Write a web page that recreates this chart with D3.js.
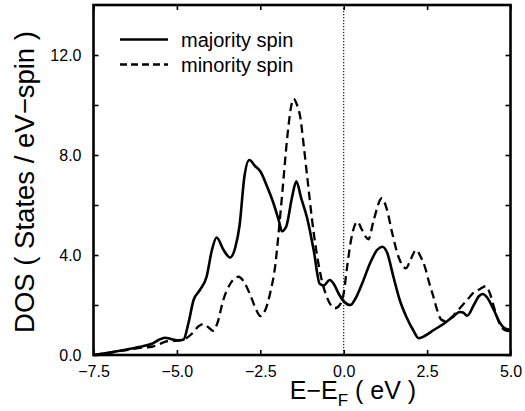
<!DOCTYPE html>
<html>
<head>
<meta charset="utf-8">
<script src="https://cdn.jsdelivr.net/npm/d3@7/dist/d3.min.js"></script>
<style>
  html, body { margin: 0; padding: 0; background: #fff; }
  svg { display: block; font-family: "Liberation Sans", Arial, Helvetica, sans-serif; }
</style>
</head>
<body>
<svg id="chart" width="525" height="411"></svg>
<script>
// ---- data ----
const majorityE = [-7.5,-7.0,-6.5,-6.0,-5.75,-5.55,-5.36,-5.15,-4.95,-4.8,-4.65,-4.5,-4.31,-4.11,-3.95,-3.81,-3.6,-3.41,-3.25,-3.12,-2.98,-2.83,-2.65,-2.5,-2.3,-2.1,-1.95,-1.85,-1.72,-1.55,-1.42,-1.28,-1.1,-0.9,-0.72,-0.6,-0.42,-0.3,-0.15,0.0,0.2,0.35,0.55,0.8,1.0,1.16,1.3,1.49,1.68,1.87,2.08,2.25,2.45,2.7,3.0,3.25,3.48,3.58,3.7,3.9,4.05,4.17,4.3,4.5,4.7,4.85,5.0];
const majorityDOS = [0.0,0.1,0.22,0.36,0.45,0.6,0.69,0.63,0.58,0.62,1.3,2.2,2.6,3.13,4.2,4.7,4.2,3.9,4.3,5.2,7.1,7.8,7.55,7.35,6.75,6.05,5.4,4.95,5.15,6.3,6.95,6.3,5.5,4.2,2.85,2.78,3.0,2.85,2.45,2.15,2.0,2.25,2.85,3.7,4.2,4.33,4.1,3.13,2.2,1.55,1.0,0.67,0.78,1.0,1.25,1.5,1.72,1.7,1.57,2.0,2.35,2.44,2.3,1.8,1.25,1.05,1.0];
const minorityE = [-7.5,-7.0,-6.5,-6.0,-5.75,-5.55,-5.3,-5.0,-4.75,-4.55,-4.35,-4.21,-4.05,-3.91,-3.78,-3.61,-3.4,-3.15,-3.0,-2.8,-2.62,-2.5,-2.35,-2.2,-2.05,-1.95,-1.82,-1.7,-1.55,-1.5,-1.4,-1.3,-1.2,-1.1,-0.9,-0.7,-0.5,-0.26,-0.12,0.0,0.1,0.22,0.41,0.55,0.74,0.9,1.14,1.3,1.45,1.65,1.87,2.0,2.17,2.3,2.44,2.56,2.69,2.8,2.92,3.05,3.3,3.5,3.7,3.9,4.1,4.25,4.4,4.5,4.69,4.85,5.0];
const minorityDOS = [0.0,0.1,0.2,0.3,0.33,0.42,0.55,0.58,0.65,0.85,1.15,1.24,1.1,0.97,1.3,2.2,2.85,3.13,2.95,2.4,1.8,1.56,1.8,2.5,3.6,4.9,6.8,8.6,10.1,10.25,10.0,9.5,8.4,7.2,4.9,3.25,2.3,1.87,2.0,2.47,3.5,4.6,5.33,5.0,4.63,5.4,6.27,5.8,4.9,3.9,3.47,3.8,4.2,3.95,3.5,2.9,2.33,1.8,1.42,1.35,1.6,1.9,2.2,2.5,2.65,2.75,2.4,1.93,1.2,0.98,0.95];
const xTicks = [-7.5,-5.0,-2.5,0.0,2.5,5.0];
const yTicksLabeled = [0,4,8,12];
const yTicksAll = [0,2,4,6,8,10,12];
const legendLabels = ["majority spin","minority spin"];

// ---- layout ----
const svg = d3.select("#chart");
const x = d3.scaleLinear().domain([-7.5, 5.0]).range([93.5, 510.5]);
const y = d3.scaleLinear().domain([0, 14]).range([355, 5]);
const tickLen = 5;

// dotted Fermi line
svg.append("line")
  .attr("x1", x(0)).attr("x2", x(0)).attr("y1", y(14)).attr("y2", y(0))
  .attr("stroke", "#000").attr("stroke-width", 1.1).attr("stroke-dasharray", "1.2,1.8");

const line = d3.line().x(d => x(d[0])).y(d => y(d[1])).curve(d3.curveMonotoneX);
const maj = majorityE.map((e, i) => [e, majorityDOS[i]]);
const min = minorityE.map((e, i) => [e, minorityDOS[i]]);

svg.append("path").datum(min).attr("d", line)
  .attr("fill", "none").attr("stroke", "#000").attr("stroke-width", 2.3)
  .attr("stroke-dasharray", "8.5,5");
svg.append("path").datum(maj).attr("d", line)
  .attr("fill", "none").attr("stroke", "#000").attr("stroke-width", 2.6);

// axes (ticks inward)
const fmt = d3.format(".1f");
const fmtX = v => fmt(v).replace("-", "\u2212");
const axB = d3.axisBottom(x).tickValues(xTicks).tickSizeInner(-tickLen).tickSizeOuter(0).tickPadding(11).tickFormat(fmtX);
const axT = d3.axisTop(x).tickValues(xTicks).tickSizeInner(-tickLen).tickSizeOuter(0).tickFormat("");
const axL = d3.axisLeft(y).tickValues(yTicksAll).tickSizeInner(-tickLen).tickSizeOuter(0).tickPadding(12)
  .tickFormat(v => yTicksLabeled.includes(v) ? fmt(v) : "");
const axR = d3.axisRight(y).tickValues(yTicksAll).tickSizeInner(-tickLen).tickSizeOuter(0).tickFormat("");

function style(g) {
  g.select(".domain").remove();
  g.selectAll(".tick line").attr("stroke", "#000").attr("stroke-width", 1.6);
  g.selectAll(".tick text").attr("fill", "#000").attr("font-size", 16)
   .attr("font-family", '"Liberation Sans", Arial, Helvetica, sans-serif');
}
svg.append("g").attr("transform", `translate(0,${y(0)})`).call(axB).call(style);
svg.append("g").attr("transform", `translate(0,${y(14)})`).call(axT).call(style);
svg.append("g").attr("transform", `translate(${x(-7.5)},0)`).call(axL).call(style);
svg.append("g").attr("transform", `translate(${x(5)},0)`).call(axR).call(style);

// frame
svg.append("rect")
  .attr("x", x(-7.5)).attr("y", y(14))
  .attr("width", x(5) - x(-7.5)).attr("height", y(0) - y(14))
  .attr("fill", "none").attr("stroke", "#000").attr("stroke-width", 2.6);

// axis titles
const xt = svg.append("text").attr("x", 353).attr("y", 399)
  .attr("text-anchor", "middle").attr("font-size", 25).attr("fill", "#000");
xt.append("tspan").text("E\u2212E");
xt.append("tspan").attr("font-size", 17).attr("dy", 7).text("F");
xt.append("tspan").attr("dy", -7).text(" ( eV )");

svg.append("text")
  .attr("transform", "translate(34,182) rotate(-90)")
  .attr("text-anchor", "middle").attr("font-size", 27.5).attr("fill", "#000")
  .text("DOS ( States / eV\u2212spin )");

// legend
const leg = svg.append("g");
legendLabels.forEach((lab, i) => {
  const ly = 39.5 + i * 25;
  leg.append("line").attr("x1", 120).attr("x2", 168).attr("y1", ly).attr("y2", ly)
    .attr("stroke", "#000").attr("stroke-width", i === 0 ? 2.5 : 2.3)
    .attr("stroke-dasharray", i === 0 ? null : "7,4");
  leg.append("text").attr("x", 181).attr("y", ly + 7)
    .attr("font-size", 20).attr("fill", "#000").text(lab);
});
</script>
</body>
</html>
